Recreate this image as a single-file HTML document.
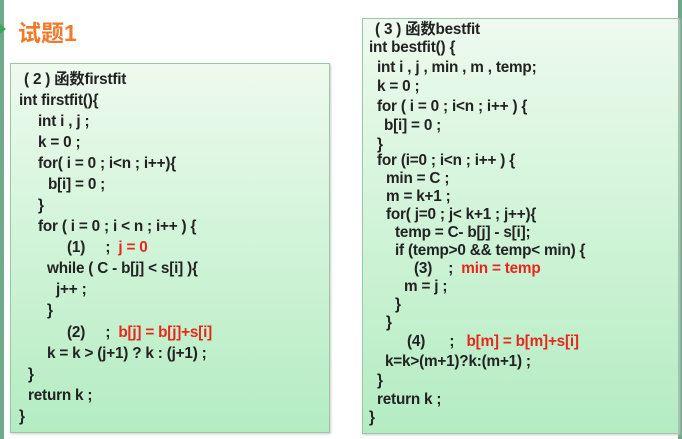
<!DOCTYPE html>
<html><head><meta charset="utf-8"><style>
body{margin:0;width:682px;height:439px;background:#fff;position:relative;overflow:hidden;font-family:"Liberation Sans","Noto Sans CJK SC",sans-serif;font-weight:bold;color:#222;}
.strip{position:absolute;top:0;width:4px;height:439px;background:#6fa88a}
.box{position:absolute;border:1px solid #9cc7a6;background:linear-gradient(#eefaee,#d6f5dc 40%,#b4ecc2);box-shadow:1px 1px 2px #ccc}
.l{position:absolute;white-space:pre;font-size:15.3px;line-height:18px;letter-spacing:-0.2px}
.r{color:#e8271c}
</style></head><body>
<div class="strip" style="left:0"></div>
<div class="strip" style="left:678px"></div>
<div style="position:absolute;left:0;top:24px;width:0;height:0;border-left:6px solid #39a857;border-top:5px solid transparent;border-bottom:5px solid transparent"></div>
<div style="position:absolute;left:18px;top:14px;font-size:23px;color:#f07a2a">试题1</div>

<div class="box" style="left:10px;top:63px;width:318px;height:368px"></div>
<div class="box" style="left:362px;top:18px;width:315px;height:414px"></div>

<div class="l" style="left:24px;top:71px">( 2 ) 函数firstfit</div>
<div class="l" style="left:19px;top:92px">int firstfit(){</div>
<div class="l" style="left:38px;top:113px">int i , j ;</div>
<div class="l" style="left:38px;top:134px">k = 0 ;</div>
<div class="l" style="left:38px;top:155px">for( i = 0 ; i&lt;n ; i++){</div>
<div class="l" style="left:48px;top:176px">b[i] = 0 ;</div>
<div class="l" style="left:38px;top:197px">}</div>
<div class="l" style="left:38px;top:218px">for ( i = 0 ; i &lt; n ; i++ ) {</div>
<div class="l" style="left:67px;top:239px">(1)     ;  <span class="r">j = 0</span></div>
<div class="l" style="left:47px;top:260px">while ( C - b[j] &lt; s[i] ){</div>
<div class="l" style="left:56px;top:281px">j++ ;</div>
<div class="l" style="left:47px;top:302px">}</div>
<div class="l" style="left:67px;top:324px">(2)     ;  <span class="r">b[j] = b[j]+s[i]</span></div>
<div class="l" style="left:47px;top:345px">k = k &gt; (j+1) ? k : (j+1) ;</div>
<div class="l" style="left:28px;top:366px">}</div>
<div class="l" style="left:28px;top:387px">return k ;</div>
<div class="l" style="left:19px;top:408px">}</div>

<div class="l" style="left:375px;top:21px">( 3 ) 函数bestfit</div>
<div class="l" style="left:369px;top:39px">int bestfit() {</div>
<div class="l" style="left:377px;top:59px">int i , j , min , m , temp;</div>
<div class="l" style="left:377px;top:78px">k = 0 ;</div>
<div class="l" style="left:377px;top:98px">for ( i = 0 ; i&lt;n ; i++ ) {</div>
<div class="l" style="left:384px;top:117px">b[i] = 0 ;</div>
<div class="l" style="left:377px;top:136px">}</div>
<div class="l" style="left:377px;top:152px">for (i=0 ; i&lt;n ; i++ ) {</div>
<div class="l" style="left:386px;top:170px">min = C ;</div>
<div class="l" style="left:386px;top:188px">m = k+1 ;</div>
<div class="l" style="left:386px;top:206px">for( j=0 ; j&lt; k+1 ; j++){</div>
<div class="l" style="left:395px;top:224px">temp = C- b[j] - s[i];</div>
<div class="l" style="left:395px;top:242px">if (temp&gt;0 &amp;&amp; temp&lt; min) {</div>
<div class="l" style="left:414px;top:260px">(3)    ;  <span class="r">min = temp</span></div>
<div class="l" style="left:404px;top:278px">m = j ;</div>
<div class="l" style="left:395px;top:296px">}</div>
<div class="l" style="left:386px;top:314px">}</div>
<div class="l" style="left:407px;top:333px">(4)      ;   <span class="r">b[m] = b[m]+s[i]</span></div>
<div class="l" style="left:385px;top:353px">k=k&gt;(m+1)?k:(m+1) ;</div>
<div class="l" style="left:377px;top:372px">}</div>
<div class="l" style="left:377px;top:391px">return k ;</div>
<div class="l" style="left:369px;top:409px">}</div>
</body></html>
